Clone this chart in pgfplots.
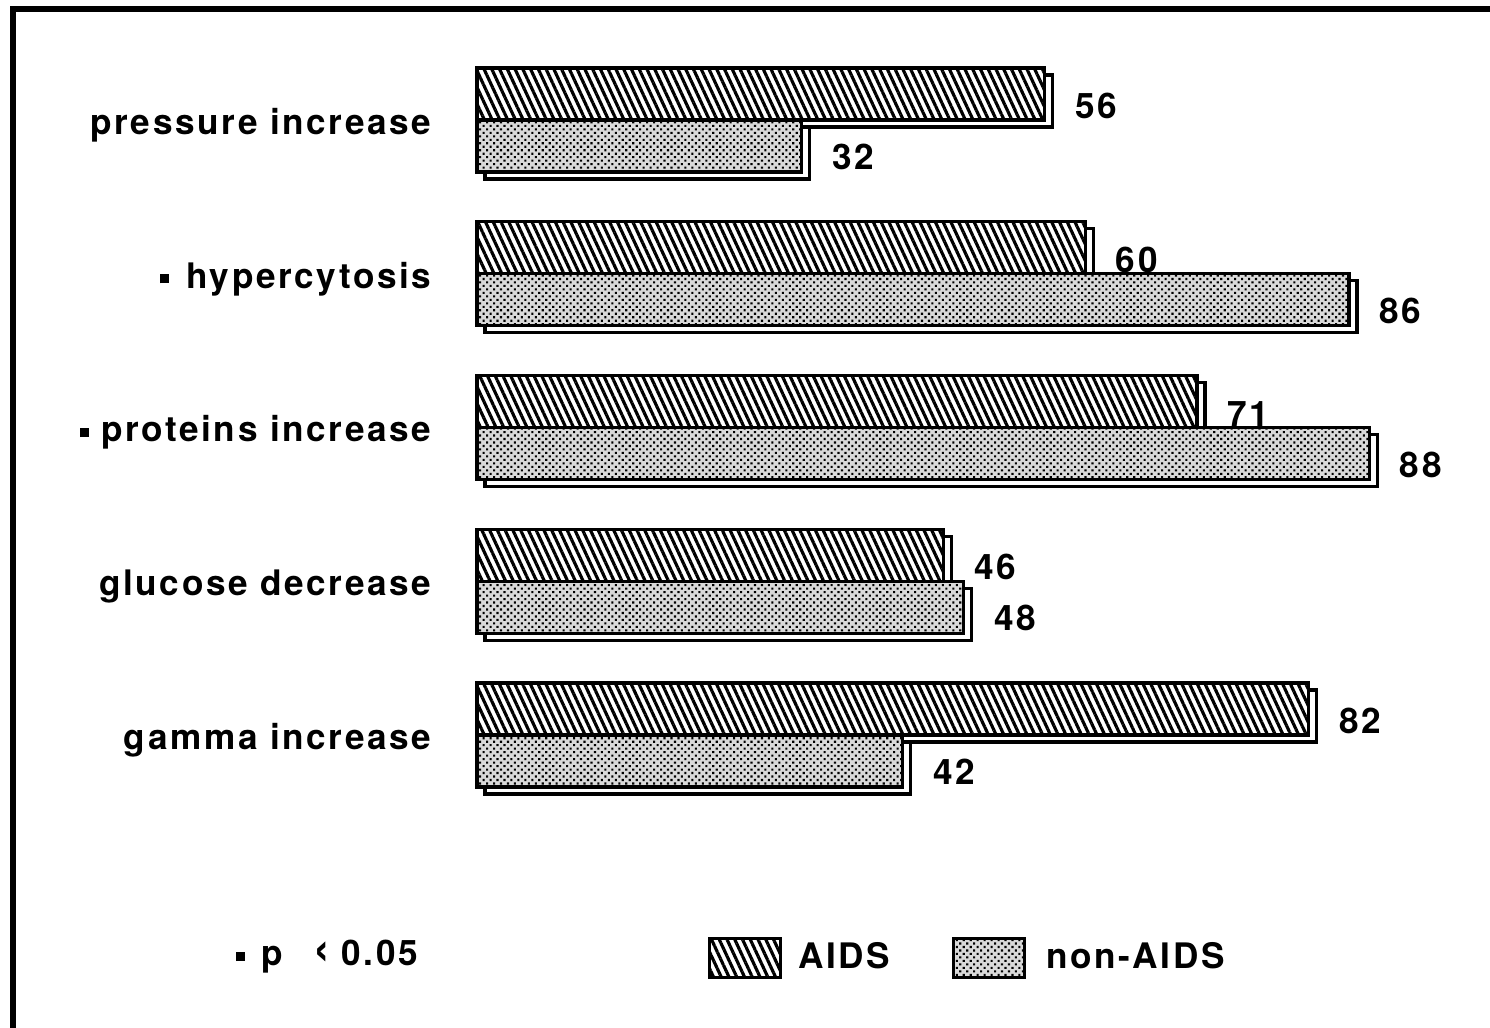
\documentclass[border=0pt]{standalone}
\usepackage{fontspec}
\setmainfont{TeX Gyre Heros}[LetterSpace=7.5]
\usepackage{pgfplots}
\pgfplotsset{compat=1.18}
\usetikzlibrary{patterns.meta}

\pgfplotstableread{
y aids lab
4 56 56
3 60 60
2 71 71
1 46 46
0 82 82
}\aidsdata
\pgfplotstableread{
y non lab
4 32 32
3 86 86
2 88 88
1 48 48
0 42 42
}\nondata

\tikzset{
  aidsfill/.style={fill=white, postaction={pattern={Lines[angle=-65,distance=2.0pt,line width=0.9pt]}, pattern color=black}},
  nonfill/.style={fill=black!15, postaction={pattern={Dots[angle=45,distance=1.4pt,radius=0.42pt]}, pattern color=black}},
}
\newcommand{\sig}{\raisebox{0.25ex}{\rule{0.09cm}{0.09cm}}}

\begin{document}
\fontsize{10}{12}\selectfont\bfseries
\begin{tikzpicture}
\path[use as bounding box] (0,0) rectangle (14.9,-10.27);
\draw[line width=1.6pt] (0.13,-10.5) -- (0.13,-0.09) -- (15.1,-0.09);
\begin{axis}[
  at={(4.77cm,-8.119cm)}, anchor=south west,
  scale only axis, width=10.14cm, height=7.6875cm,
  xmin=0, xmax=100, ymin=-0.5, ymax=4.5,
  clip=false,
  axis line style={draw=none},
  tick style={draw=none},
  major tick length=0pt,
  xtick=\empty,
  ytick={0,1,2,3,4},
  yticklabels={gamma increase, glucose decrease, {\sig\hspace{0.12cm}proteins increase}, {\sig\hspace{0.18cm}hypercytosis}, pressure increase},
  yticklabel style={inner sep=0pt, anchor=east, xshift=-0.45cm, yshift=-0.05cm},
  xbar, bar width=0.52cm,
  every axis plot/.append style={line width=0.9pt, draw=black},
  point meta=explicit symbolic,
  legend columns=2,
  legend style={at={(axis cs:22.7,-1.45)}, anchor=west, draw=none, fill=none, inner sep=0pt,
    /tikz/every even column/.append style={column sep=0.62cm},
    /tikz/every odd column/.append style={column sep=0.0cm},
    nodes={inner sep=0pt}},
  legend cell align=left,
  legend image code/.code={\draw[#1, line width=0.9pt] (0cm,-0.195cm) rectangle (0.71cm,0.195cm);},
]
% 3D side faces
\addplot[forget plot, fill=white, draw=black, bar shift=0.26cm, xshift=0.08cm, yshift=-0.07cm] table[x=aids, y=y] {\aidsdata};
\addplot[forget plot, fill=white, draw=black, bar shift=-0.26cm, xshift=0.08cm, yshift=-0.07cm] table[x=non, y=y] {\nondata};
% front faces
\addplot[aidsfill, draw=black, bar shift=0.26cm,
  nodes near coords, every node near coord/.append style={anchor=west, inner sep=0pt, xshift=0.29cm, yshift=-0.12cm, fill=none}]
  table[x=aids, y=y, meta=lab] {\aidsdata};
\addplot[nonfill, draw=black, bar shift=-0.26cm,
  nodes near coords, every node near coord/.append style={anchor=west, inner sep=0pt, xshift=0.29cm, yshift=-0.11cm}]
  table[x=non, y=y, meta=lab] {\nondata};
\legend{\hspace{0.16cm}AIDS, \hspace{0.2cm}non-AIDS}
\end{axis}
\node[anchor=west, inner sep=0pt] at (2.35,-9.57) {\sig\hspace{0.17cm}p\hspace{0.3cm}\scalebox{1.4}{‹}\hspace{0.12cm}0.05};
\end{tikzpicture}
\end{document}
